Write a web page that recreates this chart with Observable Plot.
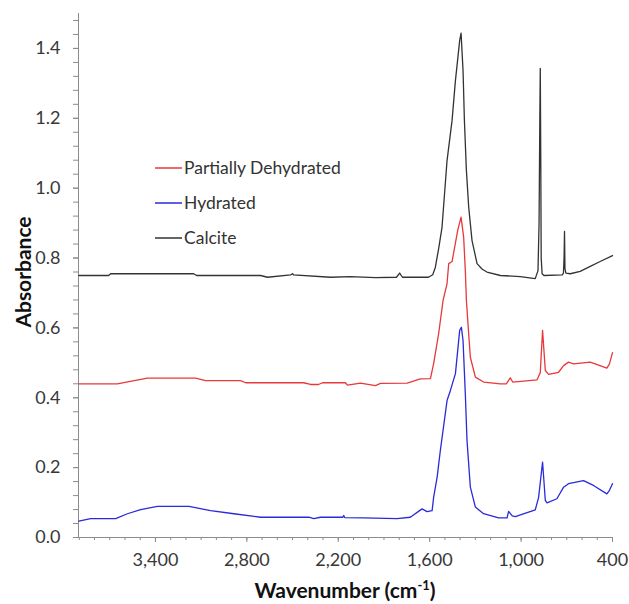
<!DOCTYPE html>
<html>
<head>
<meta charset="utf-8">
<script src="https://cdn.jsdelivr.net/npm/d3@7"></script>
<script src="https://cdn.jsdelivr.net/npm/@observablehq/plot@0.6"></script>
<style>
  html, body { margin: 0; padding: 0; background: #fff; }
  #wrap { position: relative; width: 629px; height: 604px; font-family: Lato, "Open Sans", sans-serif; color: #333; }
  .leg { position: absolute; left: 155px; font-size: 17.5px; line-height: 1; display: flex; align-items: center; }
  .leg svg { margin-right: 2px; }
  .ytitle { position: absolute; left: 22px; top: 272px; transform: translate(-50%, -50%) rotate(-90deg); font-weight: bold; font-size: 21px; color: #111; white-space: nowrap; }
  .xtitle { position: absolute; left: 345px; top: 589px; transform: translate(-50%, -50%); font-weight: bold; font-size: 21px; color: #111; white-space: nowrap; }
  .xtitle sup { font-size: 13px; }
</style>
</head>
<body>
<div id="wrap"></div>
<script>
// Series: [wavenumber (cm-1), absorbance]
const calcite = [
  [3903,0.750],[3707,0.750],[3694,0.755],[3149,0.755],[3130,0.750],[2710,0.750],[2664,0.745],
  [2513,0.752],[2500,0.755],[2494,0.752],[2251,0.745],[2120,0.747],[1956,0.744],[1818,0.745],
  [1797,0.757],[1779,0.745],[1608,0.745],[1580,0.752],[1563,0.773],[1540,0.830],[1519,0.888],
  [1486,1.079],[1453,1.194],[1431,1.308],[1403,1.423],[1394,1.444],[1381,1.337],[1372,1.194],
  [1359,1.051],[1344,0.946],[1322,0.850],[1289,0.784],[1255,0.768],[1224,0.760],[1136,0.750],
  [1005,0.747],[907,0.741],[889,0.764],[882,0.900],[877,1.200],[874,1.343],[871,1.100],[868,0.800],
  [862,0.755],[850,0.750],[730,0.752],[722,0.757],[718,0.800],[715,0.876],[712,0.770],[706,0.757],
  [677,0.755],[612,0.762],[546,0.776],[481,0.790],[400,0.807]
];
const hydrated = [
  [3903,0.047],[3825,0.054],[3661,0.054],[3584,0.068],[3497,0.080],[3387,0.089],[3180,0.089],
  [3038,0.077],[2885,0.068],[2710,0.058],[2393,0.058],[2361,0.054],[2317,0.058],[2170,0.058],
  [2164,0.063],[2158,0.057],[2033,0.056],[1814,0.054],[1727,0.058],[1650,0.082],[1617,0.074],
  [1584,0.077],[1574,0.115],[1551,0.173],[1530,0.249],[1486,0.392],[1464,0.421],[1431,0.469],
  [1403,0.593],[1392,0.602],[1381,0.564],[1366,0.411],[1355,0.278],[1333,0.144],[1300,0.087],
  [1246,0.068],[1148,0.056],[1092,0.056],[1082,0.075],[1058,0.062],[1038,0.060],[907,0.079],
  [885,0.115],[859,0.216],[841,0.106],[830,0.099],[765,0.111],[721,0.144],[689,0.154],[590,0.163],
  [525,0.149],[437,0.125],[420,0.135],[400,0.154]
];
const partial = [
  [3903,0.440],[3739,0.440],[3650,0.440],[3453,0.456],[3136,0.456],[3071,0.449],[2841,0.449],
  [2808,0.443],[2428,0.443],[2382,0.438],[2330,0.438],[2303,0.443],[2153,0.443],[2140,0.436],
  [2054,0.442],[1956,0.435],[1923,0.441],[1748,0.442],[1661,0.454],[1595,0.455],[1574,0.498],
  [1541,0.584],[1512,0.679],[1486,0.727],[1475,0.784],[1453,0.790],[1416,0.879],[1394,0.917],
  [1377,0.860],[1366,0.764],[1359,0.679],[1344,0.583],[1333,0.516],[1300,0.459],[1246,0.445],
  [1136,0.440],[1097,0.440],[1071,0.457],[1055,0.445],[896,0.451],[874,0.472],[859,0.593],
  [841,0.478],[820,0.467],[754,0.473],[721,0.492],[689,0.502],[656,0.497],[546,0.502],[437,0.485],
  [420,0.497],[400,0.529]
];
const seriesNames = ["Partially Dehydrated", "Hydrated", "Calcite"];
const seriesColors = ["#e8383a", "#2a2ad8", "#333333"];
const xDomain = [3905, 400];
const yDomain = [0, 1.5];
const xMajorTicks = [3400, 2800, 2200, 1600, 1000, 400];
const yMajorTicks = [0, 0.2, 0.4, 0.6, 0.8, 1.0, 1.2, 1.4];
const xMinorStep = 100;
const yMinorStep = 0.04;

const xMinorTicks = d3.range(400, 3905, xMinorStep);
const yMinorTicks = d3.range(0, 38).map(i => +(i * yMinorStep).toFixed(2));

const rows = [];
[partial, hydrated, calcite].forEach((s, i) => s.forEach(([wn, a]) => rows.push({wn, a, series: seriesNames[i]})));

const axisColor = "#8c8c8c";
const noText = () => "";
const chart = Plot.plot({
  width: 629, height: 604,
  marginLeft: 78, marginRight: 17, marginTop: 13, marginBottom: 67,
  style: {fontFamily: "Lato, 'Open Sans', sans-serif", background: "transparent", overflow: "visible"},
  x: {domain: xDomain, label: null},
  y: {domain: yDomain, label: null},
  color: {domain: seriesNames, range: seriesColors},
  marks: [
    Plot.axisY(yMinorTicks, {tickSize: 5, tickFormat: noText, stroke: axisColor, label: null}),
    Plot.axisY(yMajorTicks, {tickSize: 5, tickPadding: 13, tickFormat: d3.format(".1f"), fontSize: 18, fill: "#383838", stroke: axisColor, label: null}),
    Plot.axisX(xMinorTicks, {tickSize: 3, tickFormat: noText, stroke: axisColor, label: null}),
    Plot.axisX(xMajorTicks, {tickSize: 5, tickPadding: 11, tickFormat: d3.format(","), fontSize: 18, fill: "#383838", stroke: axisColor, label: null}),
    Plot.ruleY([yDomain[0]], {stroke: axisColor}),
    Plot.ruleX([xDomain[0]], {stroke: axisColor}),
    Plot.line(rows, {x: "wn", y: "a", z: "series", stroke: "series", strokeWidth: 1.3})
  ]
});
const wrap = document.getElementById("wrap");
wrap.appendChild(chart);

const legTops = [168, 203, 238];
seriesNames.forEach((name, i) => {
  const d = document.createElement("div");
  d.className = "leg";
  d.style.top = (legTops[i] - 9) + "px";
  d.style.height = "18px";
  d.innerHTML = `<svg width="27" height="4"><line x1="0" x2="27" y1="2" y2="2" stroke="${seriesColors[i]}" stroke-width="1.5"/></svg><span>${name}</span>`;
  wrap.appendChild(d);
});
const yt = document.createElement("div");
yt.className = "ytitle"; yt.textContent = "Absorbance"; wrap.appendChild(yt);
const xt = document.createElement("div");
xt.className = "xtitle"; xt.innerHTML = "Wavenumber (cm<sup>-1</sup>)"; wrap.appendChild(xt);
</script>
</body>
</html>
